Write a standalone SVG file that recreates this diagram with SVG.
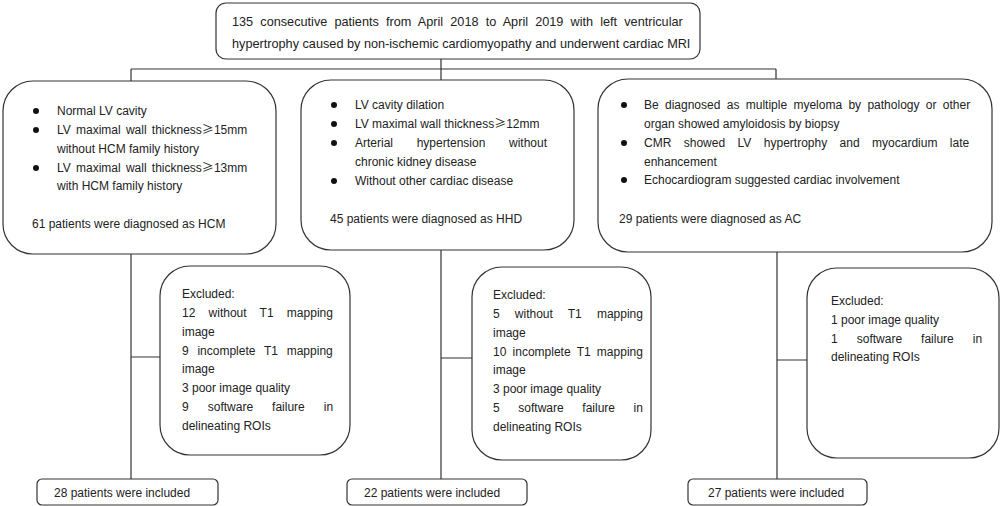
<svg xmlns="http://www.w3.org/2000/svg" width="1000" height="506" viewBox="0 0 1000 506">
<style>
.box{fill:#fff;stroke:#333;stroke-width:1.2}
.ln{fill:none;stroke:#333;stroke-width:1.2}
text{font-family:"Liberation Sans",Arial,"Noto Sans CJK SC",sans-serif;font-size:12px;fill:#222}
.top{font-size:12.7px}
.cjk{font-family:"Noto Sans CJK SC",sans-serif}
.dot{fill:#111}
</style>
<rect width="1000" height="506" fill="#fff"/>
<g id="connectors">
<path class="ln" d="M441 59V80M131 69H776M131 69V81M776 69V79"/>
<path class="ln" d="M131 254V479M131 357H160"/>
<path class="ln" d="M441 250V479M441 358H472"/>
<path class="ln" d="M777 252V479M777 360H807"/>
</g>
<g id="n-top">
<rect class="box" x="216" y="3" width="484" height="56" rx="10"/>
<text class="top" x="232" y="26" style="word-spacing:3.6px">135 consecutive patients from April 2018 to April 2019 with left ventricular</text>
<text class="top" x="232" y="48">hypertrophy caused by non-ischemic cardiomyopathy and underwent cardiac MRI</text>
</g>
<g id="n-hcm">
<rect class="box" x="3" y="81" width="273" height="173" rx="30"/>
<circle class="dot" cx="36" cy="111" r="3"/>
<text x="57" y="115">Normal LV cavity</text>
<circle class="dot" cx="36" cy="130" r="3"/>
<text x="57" y="134" style="word-spacing:1.9px">LV maximal wall thickness<tspan class="cjk">≥</tspan>15mm</text>
<text x="57" y="153">without HCM family history</text>
<circle class="dot" cx="36" cy="168" r="3"/>
<text x="57" y="172" style="word-spacing:1.9px">LV maximal wall thickness<tspan class="cjk">≥</tspan>13mm</text>
<text x="57" y="190">with HCM family history</text>
<text x="32" y="228">61 patients were diagnosed as HCM</text>
</g>
<g id="n-hhd">
<rect class="box" x="301" y="80" width="273" height="170" rx="30"/>
<circle class="dot" cx="334" cy="105" r="3"/>
<text x="355" y="109">LV cavity dilation</text>
<circle class="dot" cx="334" cy="124" r="3"/>
<text x="355" y="128">LV maximal wall thickness<tspan class="cjk">≥</tspan>12mm</text>
<circle class="dot" cx="334" cy="143" r="3"/>
<text x="355" y="147" style="word-spacing:20.3px">Arterial hypertension without</text>
<text x="355" y="166">chronic kidney disease</text>
<circle class="dot" cx="334" cy="181" r="3"/>
<text x="355" y="185">Without other cardiac disease</text>
<text x="330" y="223">45 patients were diagnosed as HHD</text>
</g>
<g id="n-ac">
<rect class="box" x="598" y="79" width="394" height="173" rx="30"/>
<circle class="dot" cx="624" cy="105" r="3"/>
<text x="644" y="109" style="word-spacing:3px">Be diagnosed as multiple myeloma by pathology or other</text>
<text x="644" y="128">organ showed amyloidosis by biopsy</text>
<circle class="dot" cx="624" cy="143" r="3"/>
<text x="644" y="147" style="word-spacing:9.1px">CMR showed LV hypertrophy and myocardium late</text>
<text x="644" y="166">enhancement</text>
<circle class="dot" cx="624" cy="180" r="3"/>
<text x="644" y="184">Echocardiogram suggested cardiac involvement</text>
<text x="619" y="223">29 patients were diagnosed as AC</text>
</g>
<g id="n-ex1">
<rect class="box" x="160" y="266" width="190" height="189" rx="30"/>
<text x="182" y="298">Excluded:</text>
<text x="182" y="317" style="word-spacing:9.9px">12 without T1 mapping</text>
<text x="182" y="336">image</text>
<text x="182" y="355" style="word-spacing:5.4px">9 incomplete T1 mapping</text>
<text x="182" y="373">image</text>
<text x="182" y="392">3 poor image quality</text>
<text x="182" y="411" style="word-spacing:15.7px">9 software failure in</text>
<text x="182" y="430">delineating ROIs</text>
</g>
<g id="n-ex2">
<rect class="box" x="472" y="267" width="179" height="193" rx="30"/>
<text x="493" y="299">Excluded:</text>
<text x="493" y="318" style="word-spacing:11.8px">5 without T1 mapping</text>
<text x="493" y="337">image</text>
<text x="493" y="356" style="word-spacing:2.9px">10 incomplete T1 mapping</text>
<text x="493" y="374">image</text>
<text x="493" y="393">3 poor image quality</text>
<text x="493" y="412" style="word-spacing:15.3px">5 software failure in</text>
<text x="493" y="431">delineating ROIs</text>
</g>
<g id="n-ex3">
<rect class="box" x="807" y="268" width="192" height="190" rx="30"/>
<text x="831" y="305">Excluded:</text>
<text x="831" y="324">1 poor image quality</text>
<text x="831" y="343" style="word-spacing:15.7px">1 software failure in</text>
<text x="831" y="361">delineating ROIs</text>
</g>
<g id="n-in1">
<rect class="box" x="37" y="479" width="181" height="26" rx="5"/>
<text x="54" y="497">28 patients were included</text>
</g>
<g id="n-in2">
<rect class="box" x="347" y="479" width="180" height="26" rx="5"/>
<text x="364" y="497">22 patients were included</text>
</g>
<g id="n-in3">
<rect class="box" x="688" y="479" width="179" height="26" rx="5"/>
<text x="708" y="497">27 patients were included</text>
</g>
</svg>
